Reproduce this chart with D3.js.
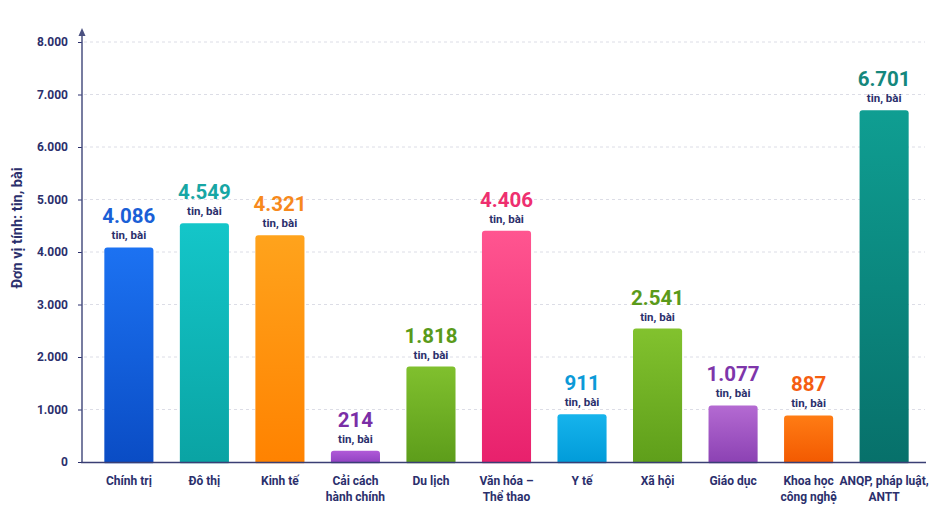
<!DOCTYPE html>
<html><head><meta charset="utf-8">
<script src="https://cdn.jsdelivr.net/npm/d3@7/dist/d3.min.js"></script>
<style>body{margin:0;background:#fff}svg{display:block}text{font-family:Roboto,"Noto Sans",sans-serif}</style>
</head><body><svg id="c" width="941" height="517"></svg>
<script>
const categories = [["Chính trị"],["Đô thị"],["Kinh tế"],["Cải cách","hành chính"],["Du lịch"],["Văn hóa –","Thể thao"],["Y tế"],["Xã hội"],["Giáo dục"],["Khoa học","công nghệ"],["ANQP, pháp luật,","ANTT"]];
const values = [4086,4549,4321,214,1818,4406,911,2541,1077,887,6701];
const colorsTop = ["#1c72f2","#14c6c9","#ffa31c","#b05ad8","#80c02e","#ff5590","#16b4ec","#82c22e","#b46ad2","#ff7c14","#0f9e92"];
const colorsBottom = ["#0a4cc4","#0aa3a3","#ff8200","#8a3ebd","#5c9c1a","#e8206c","#009ad8","#5e9e1a","#8a40b2","#f25800","#07706a"];
const labelColors = ["#1a5fd6","#17a6a4","#f7891c","#7a2ea6","#5a9a1a","#ee2f6f","#0b9ad8","#5a9a1a","#7e36aa","#f55e12","#14877c"];
const yTicks = [0,1000,2000,3000,4000,5000,6000,7000,8000];
const unitLabel = "tin, bài";
const yTitle = "Đơn vị tính: tin, bài";

const svg = d3.select("#c");
const navy = "#2b2f6c";
const x = d3.scaleBand().domain(d3.range(values.length)).range([93,920]).paddingInner(0.35).paddingOuter(0.15);
const y = d3.scaleLinear().domain([0,8000]).range([462,42]);
const fmt = v => d3.format(",")(v).replace(/,/g,".");

// gridlines
svg.append("g").selectAll("line").data(yTicks.filter(d=>d>0)).join("line")
  .attr("x1",84).attr("x2",925).attr("y1",d=>y(d)).attr("y2",d=>y(d))
  .attr("stroke","#dcdde6").attr("stroke-width",1).attr("stroke-dasharray","3,3");

// y axis
const yAxis = svg.append("g").attr("transform","translate(82,0)")
  .call(d3.axisLeft(y).tickValues(yTicks).tickFormat(fmt).tickSize(4).tickPadding(10));
yAxis.select(".domain").remove();
yAxis.selectAll(".tick line").attr("stroke",navy).attr("stroke-width",1);
yAxis.selectAll(".tick text").attr("fill",navy).attr("font-size",12).attr("font-weight",700);
svg.append("line").attr("x1",82).attr("x2",82).attr("y1",33).attr("y2",463).attr("stroke","#4a5080").attr("stroke-width",1.5);
svg.append("path").attr("d","M82,28 L78.5,36 L85.5,36 Z").attr("fill","#4a5080");

// y title
svg.append("text").attr("transform","translate(22,228) rotate(-90)").attr("text-anchor","middle")
  .attr("font-size",14.5).attr("font-weight",700).attr("fill",navy).text(yTitle);

// gradients
const defs = svg.append("defs");
values.forEach((v,i)=>{
  const g = defs.append("linearGradient").attr("id","g"+i).attr("x1",0).attr("x2",0).attr("y1",0).attr("y2",1);
  g.append("stop").attr("offset","0%").attr("stop-color",colorsTop[i]);
  g.append("stop").attr("offset","100%").attr("stop-color",colorsBottom[i]);
});

// bars
svg.append("g").selectAll("rect").data(values).join("rect")
  .attr("x",(d,i)=>x(i)).attr("width",x.bandwidth())
  .attr("y",d=>y(d)).attr("height",d=>y(0)-y(d)+3)
  .attr("rx",3).attr("fill",(d,i)=>`url(#g${i})`);
svg.append("rect").attr("x",84).attr("y",463.2).attr("width",845).attr("height",6).attr("fill","#fff");
svg.append("line").attr("x1",81).attr("x2",926).attr("y1",462.5).attr("y2",462.5).attr("stroke","#3a3f74").attr("stroke-width",1.5);

// value labels
const lab = svg.append("g");
lab.selectAll("text.v").data(values).join("text").attr("class","v")
  .attr("x",(d,i)=>x(i)+x.bandwidth()/2).attr("y",d=>y(d)-24)
  .attr("text-anchor","middle").attr("font-size",20.5).attr("font-weight",700)
  .attr("fill",(d,i)=>labelColors[i]).text(fmt);
lab.selectAll("text.u").data(values).join("text").attr("class","u")
  .attr("x",(d,i)=>x(i)+x.bandwidth()/2).attr("y",d=>y(d)-8)
  .attr("text-anchor","middle").attr("font-size",11.5).attr("font-weight",700)
  .attr("fill",navy).text(unitLabel);

// category labels
const cat = svg.append("g").selectAll("text").data(categories).join("text")
  .attr("x",(d,i)=>x(i)+x.bandwidth()/2).attr("y",485)
  .attr("text-anchor","middle").attr("font-size",12).attr("font-weight",700).attr("fill",navy);
cat.selectAll("tspan").data(d=>d).join("tspan")
  .attr("x",function(){return this.parentNode.getAttribute("x");})
  .attr("dy",(d,j)=>j===0?0:15.5).text(d=>d);
</script></body></html>
